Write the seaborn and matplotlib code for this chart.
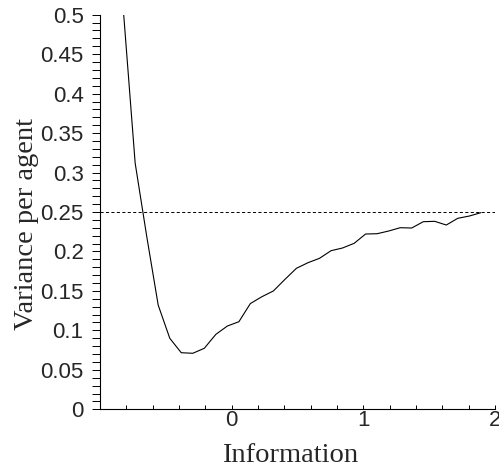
import matplotlib
matplotlib.use("Agg")
import matplotlib.pyplot as plt
import matplotlib.ticker as mtick
import numpy as np
import pandas as pd
import seaborn as sns

# ──────────────────────────────────────────────
# Data
# ──────────────────────────────────────────────
information = [
    -0.820, -0.733, -0.645, -0.558, -0.470, -0.383, -0.295, -0.208,
    -0.120, -0.033, 0.055, 0.142, 0.230, 0.317, 0.405, 0.492,
    0.580, 0.667, 0.755, 0.842, 0.930, 1.017, 1.105, 1.192,
    1.280, 1.367, 1.455, 1.542, 1.630, 1.717, 1.805, 1.892,
]
variance = [
    0.500, 0.312, 0.219, 0.132, 0.090, 0.0717, 0.0710, 0.0773,
    0.095, 0.1055, 0.111, 0.134, 0.1427, 0.150, 0.1647, 0.1787,
    0.1858, 0.1913, 0.201, 0.2044, 0.2103, 0.2221, 0.2225, 0.2259,
    0.2301, 0.2297, 0.2377, 0.2382, 0.2335, 0.242, 0.2449, 0.2491,
]
reference_level = 0.25

x_major = [0, 1, 2]
y_major = [0, 0.05, 0.1, 0.15, 0.2, 0.25, 0.3, 0.35, 0.4, 0.45, 0.5]
y_major_labels = ["0", "0.05", "0.1", "0.15", "0.2", "0.25", "0.3",
                  "0.35", "0.4", "0.45", "0.5"]

df = pd.DataFrame({"Information": information, "Variance": variance})

# ──────────────────────────────────────────────
# Style
# ──────────────────────────────────────────────
sns.set_style("ticks")
plt.rcParams.update({
    "font.family": ["Liberation Sans", "DejaVu Sans"],
    "axes.linewidth": 0.8,
    "axes.edgecolor": "black",
})

fig = plt.figure(figsize=(4.99, 4.68), dpi=100)
ax = fig.add_axes([0.2004, 0.1254, 0.7916, 0.8432])

sns.lineplot(data=df, x="Information", y="Variance", color="black",
             lw=0.8, ax=ax, sort=False)
ax.axhline(reference_level, color="black", lw=0.7, linestyle=(0, (3.2, 2.4)))

ax.set_xlim(-1, 2)
ax.set_ylim(0, 0.5)

sns.despine(ax=ax)

# y axis: labelled every 0.05, minor every 0.01, ticks pointing out
ax.yaxis.set_major_locator(mtick.FixedLocator(y_major))
ax.yaxis.set_major_formatter(mtick.FixedFormatter(y_major_labels))
ax.yaxis.set_minor_locator(mtick.MultipleLocator(0.01))
ax.tick_params(axis="y", which="both", direction="out", length=5.8,
               width=0.7, color="black", pad=6, labelsize=16)

# x axis: labelled at integers, minor every 0.2, ticks pointing in
ax.xaxis.set_major_locator(mtick.FixedLocator(x_major))
ax.xaxis.set_major_formatter(mtick.FixedFormatter([str(v) for v in x_major]))
ax.xaxis.set_minor_locator(mtick.MultipleLocator(0.2))
ax.tick_params(axis="x", which="both", direction="in", length=3,
               width=0.7, color="black", pad=0.5, labelsize=16)

serif = ["Liberation Serif", "DejaVu Serif"]
ax.set_xlabel("Information", family=serif, fontsize=20.5)
ax.set_ylabel("Variance per agent", family=serif, fontsize=20.5)
ax.xaxis.label.set_verticalalignment("baseline")
ax.yaxis.label.set_verticalalignment("baseline")
ax.xaxis.set_label_coords(0.481, -0.133)
ax.yaxis.set_label_coords(-0.169, 0.47)

fig.savefig("out.png", dpi=100)
